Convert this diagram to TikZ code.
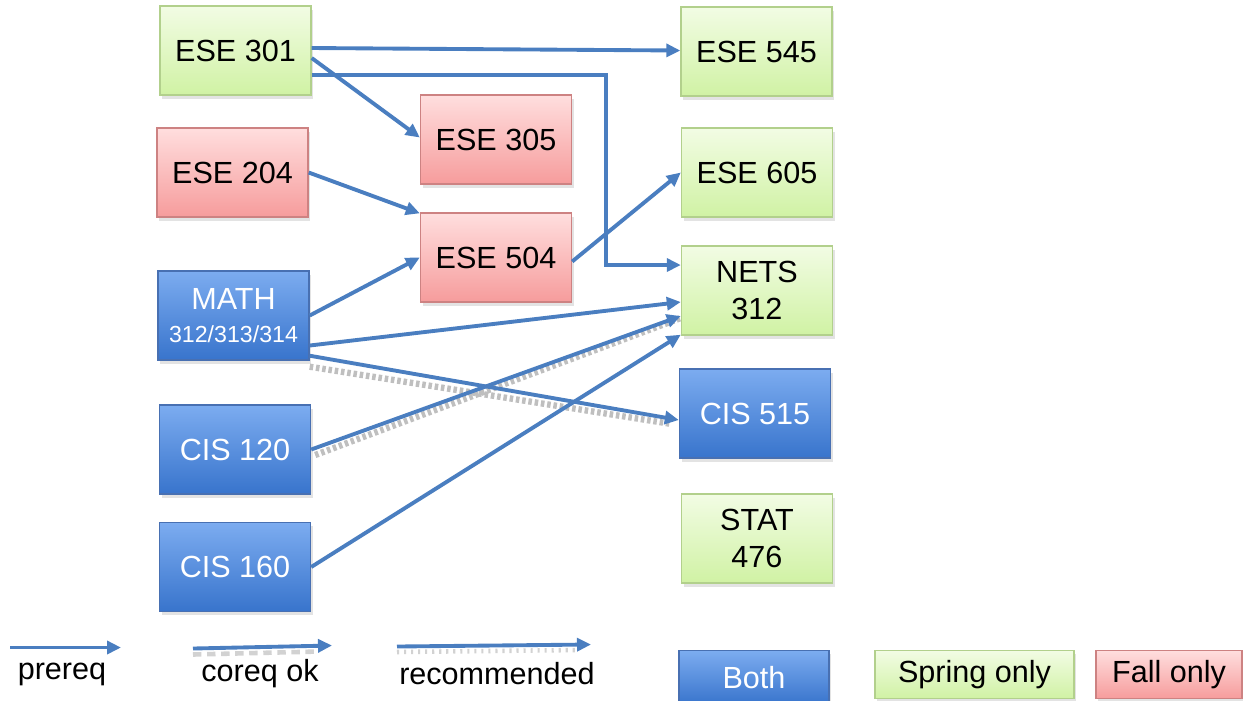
\documentclass[tikz,border=0pt]{standalone}
\usepackage{fontspec}
\setmainfont{Liberation Sans}
\usepackage{tikz}
\usetikzlibrary{arrows.meta}
\usetikzlibrary{calc,shadows}
\usepackage{xcolor}
\definecolor{arrowblue}{RGB}{74,126,192}
\definecolor{bothtop}{RGB}{124,172,240}
\definecolor{bothbot}{RGB}{56,116,204}
\definecolor{bothedge}{RGB}{72,112,178}
\definecolor{springtop}{RGB}{242,252,228}
\definecolor{springbot}{RGB}{208,242,164}
\definecolor{springedge}{RGB}{178,208,140}
\definecolor{falltop}{RGB}{255,222,222}
\definecolor{fallbot}{RGB}{246,156,156}
\definecolor{falledge}{RGB}{205,130,130}
\tikzset{
    course/.style={
        draw,
        rectangle,
        minimum width=1.51cm,
        minimum height=0.89cm,
        inner sep=1pt,
        align=center,
        drop shadow={shadow xshift=0.6pt, shadow yshift=-1pt, opacity=0.22}
    },
    both/.style={course, draw=bothedge, top color=bothtop, bottom color=bothbot, text=white},
    spring/.style={course, draw=springedge, top color=springtop, bottom color=springbot},
    fall/.style={course, draw=falledge, top color=falltop, bottom color=fallbot},
    prereq/.style={
        draw=arrowblue,
        line width=1.1pt,
        -{Triangle[length=1.4mm, width=1.3mm]}
    },
    recom/.style={draw=gray!50, line width=1.8pt, dash pattern=on 1pt off 0.8pt},
    coreqline/.style={draw=gray!35, line width=1.3pt, dash pattern=on 2.4pt off 1.6pt},
    recomline/.style={draw=gray!35, line width=1.3pt, dash pattern=on 0.6pt off 1.4pt}
}

\begin{document}
\begin{tikzpicture}[every node/.style={font=\fontsize{8.7}{10.5}\selectfont}]
    \useasboundingbox (0,0) rectangle (12.43,-7.00);
    % Courses - left column
    \node[spring] (ese301) at (2.355,-0.505) {ESE 301};
    \node[fall] (ese204) at (2.325,-1.725) {ESE 204};
    \node[both] (math) at (2.335,-3.155) {MATH\\[-1pt]{\fontsize{6.6}{8}\selectfont 312/313/314}};
    \node[both] (cis120) at (2.35,-4.495) {CIS 120};
    \node[both] (cis160) at (2.35,-5.67) {CIS 160};
    % Courses - middle column
    \node[fall] (ese305) at (4.96,-1.395) {ESE 305};
    \node[fall] (ese504) at (4.96,-2.575) {ESE 504};
    % Courses - right column
    \node[spring] (ese545) at (7.565,-0.515) {ESE 545};
    \node[spring] (ese605) at (7.57,-1.725) {ESE 605};
    \node[spring] (nets312) at (7.57,-2.905) {NETS\\312};
    \node[both] (cis515) at (7.55,-4.135) {CIS 515};
    \node[spring] (stat476) at (7.57,-5.385) {STAT\\476};

    % Recommended (gray, under the arrows)
    \draw[recom] ([xshift=0pt, yshift=-0.6mm]math.south east) -- ([xshift=-0.7mm, yshift=-1.05mm]cis515.west);
    \draw[recom] ([xshift=0.4mm, yshift=-0.55mm]cis120.east) -- ([yshift=-2.75mm]nets312.west);

    % Edges
    \draw[prereq] ([yshift=0.25mm]ese301.east) -- ([yshift=0.1mm]ese545.west);
    \draw[prereq] ([yshift=-2.45mm]ese301.east) -- ++(2.94,0) |- ([yshift=2.55mm]nets312.west);
    \draw[prereq] ([yshift=-0.75mm]ese301.east) -- ([yshift=0.2mm]ese305.west);
    \draw[prereq] (ese204.east) -- ([yshift=-0.1mm]ese504.north west);
    \draw[prereq] ([yshift=-0.4mm]ese504.east) -- (ese605.west);
    \draw[prereq] (math.east) -- (ese504.west);
    \draw[prereq] ([yshift=-3mm]math.east) -- ([yshift=-1.15mm]nets312.west);
    \draw[prereq] ([yshift=0.5mm]math.south east) -- ([yshift=-0.65mm]cis515.west);
    \draw[prereq] (cis120.east) -- ([yshift=-2.55mm]nets312.west);
    \draw[prereq] (cis160.east) -- ([yshift=0.1mm]nets312.south west);

    % Legend
    \coordinate (p1) at (0.10,-6.475);
    \coordinate (p2) at (1.21,-6.475);
    \coordinate (c1) at (1.93,-6.485);
    \coordinate (c2) at (3.32,-6.455);
    \coordinate (r1) at (3.97,-6.465);
    \coordinate (r2) at (5.91,-6.445);
    \draw[prereq] (p1) -- (p2);
    \draw[coreqline] ([yshift=-0.6mm]c1) -- ([xshift=-1.3mm, yshift=-0.6mm]c2);
    \draw[prereq] (c1) -- (c2);
    \draw[recomline] ([yshift=-0.55mm]r1) -- ([xshift=-1.3mm, yshift=-0.55mm]r2);
    \draw[prereq] (r1) -- (r2);
    \node (lprereq) at (0.62,-6.74) {prereq};
    \node (lcoreq) at (2.60,-6.74) {coreq ok};
    \node (lrecom) at (4.97,-6.74) {recommended};
    \node[both, minimum width=1.50cm, minimum height=0.54cm, anchor=north] (kboth) at (7.54,-6.50) {Both};
    \node[spring, minimum width=1.99cm, minimum height=0.48cm, anchor=north] (kspring) at (9.745,-6.50) {Spring only};
    \node[fall, minimum width=1.46cm, minimum height=0.48cm, anchor=north] (kfall) at (11.69,-6.50) {Fall only};
\end{tikzpicture}
\end{document}
